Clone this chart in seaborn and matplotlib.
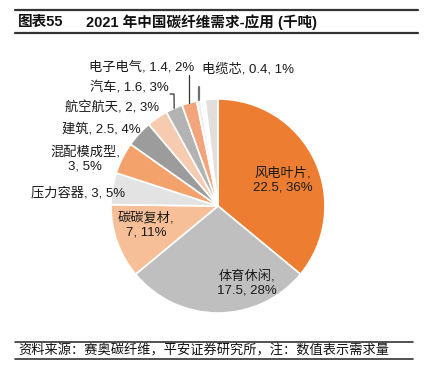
import numpy as np
import matplotlib
matplotlib.use("Agg")
import matplotlib.pyplot as plt
import seaborn as sns

# --- data ---
categories = ['风电叶片', '体育休闲', '碳碳复材', '压力容器', '混配模成型',
              '建筑', '航空航天', '汽车', '电子电气', '电缆芯']
values = [22.5, 17.5, 7, 3, 3, 2.5, 2, 1.6, 1.4, 0.4]
# small unlabeled slices at the top of the pie
other_values = [0.2, 0.2, 1.2]

colors = ['#ED7D31', '#BFBFBF', '#F6BF98', '#E3E3E3', '#F4A26B',
          '#9C9C9C', '#F7CBB0', '#B3B3B3', '#F2A57B', '#EEEEEE']
other_colors = ['#F9D3BE', '#F7F7F7', '#E2DEDB']

W, H = 426, 382
sns.set_theme(style="white")
plt.rcParams['font.family'] = ['Liberation Sans', 'Noto Sans CJK SC', 'DejaVu Sans']

fig = plt.figure(figsize=(W / 100, H / 100), dpi=100)
ax = fig.add_axes([0, 0, 1, 1])


def py(y):
    # image pixel row -> data y
    return H - y


cx, cy, r = 218, py(206), 107
all_vals = values + other_values
wedges, _ = ax.pie(all_vals, colors=colors + other_colors, startangle=90,
                   counterclock=False, center=(cx, cy), radius=r,
                   wedgeprops=dict(edgecolor='white', linewidth=1.2))
total = sum(all_vals)

labels = []
for name, v in zip(categories, values):
    pct = v / total * 100
    labels.append((name, f"{v:g}", f"{pct:.0f}%"))

# label layout: (x, y, ha, two_lines)
layout = [
    (283, 180, 'center', True),
    (247, 283, 'center', True),
    (146, 225, 'center', True),
    (125, 193, 'right', False),
    (85, 159, 'center', True),
    (141, 129, 'right', False),
    (159, 108, 'right', False),
    (169, 87, 'right', False),
    (194, 67, 'right', False),
    (202, 69, 'left', False),
]

for (name, v, p), (x, y, ha, two) in zip(labels, layout):
    if two:
        txt = f"{name},\n{v}, {p}"
    else:
        txt = f"{name}, {v}, {p}"
    ax.text(x, py(y), txt, ha=ha, va='center', fontsize=9.5,
            color='#1a1a1a', linespacing=1.25)


def edge_point(w, frac=1.0):
    th = np.deg2rad((w.theta1 + w.theta2) / 2)
    return cx + r * frac * np.cos(th), cy + r * frac * np.sin(th)


# leader lines for the small top slices
ex, ey = edge_point(wedges[7])
ax.plot([170, 174, ex], [py(94), py(94), ey], color='#333333', lw=0.9)
ex, ey = edge_point(wedges[8])
ax.plot([ex, ex], [py(75), ey], color='#333333', lw=0.9)
ex, ey = edge_point(wedges[9])
ax.plot([ex, ex], [py(87), ey + 1], color='#707070', lw=1.6)

# title and footer rules
ax.plot([15, 418], [py(10), py(10)], color='#333333', lw=1.6)
ax.plot([15, 418], [py(33), py(33)], color='#333333', lw=1.6)
ax.text(18, py(22), "图表55", ha='left', va='center', fontsize=10.5,
        fontweight='bold', color='#111111')
ax.text(86, py(22), "2021 年中国碳纤维需求-应用 (千吨)", ha='left',
        va='center', fontsize=10.5, fontweight='bold', color='#111111')

ax.plot([15, 413], [py(342), py(342)], color='#333333', lw=1.2)
ax.plot([15, 413], [py(359), py(359)], color='#333333', lw=1.2)
ax.text(18, py(351), "资料来源：赛奥碳纤维，平安证券研究所，注：数值表示需求量",
        ha='left', va='center', fontsize=9.5, style='italic', color='#111111')

ax.set_xlim(0, W)
ax.set_ylim(0, H)
ax.set_aspect('auto')
ax.axis('off')

fig.savefig("out.png", dpi=100)
plt.close(fig)
